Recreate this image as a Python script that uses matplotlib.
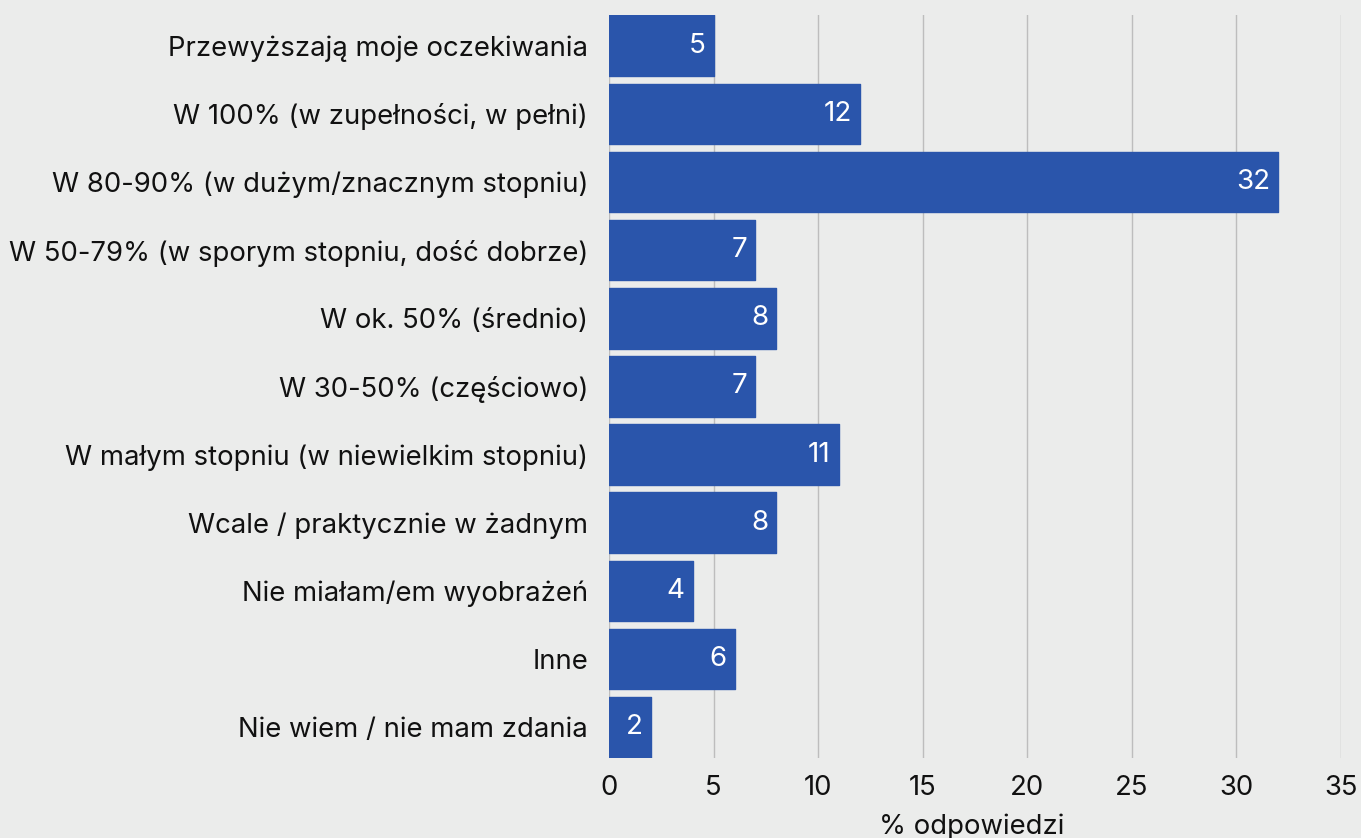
import matplotlib
matplotlib.use("Agg")
import matplotlib.pyplot as plt

# data
categories = [
    "Przewyższają moje oczekiwania",
    "W 100% (w zupełności, w pełni)",
    "W 80-90% (w dużym/znacznym stopniu)",
    "W 50-79% (w sporym stopniu, dość dobrze)",
    "W ok. 50% (średnio)",
    "W 30-50% (częściowo)",
    "W małym stopniu (w niewielkim stopniu)",
    "Wcale / praktycznie w żadnym",
    "Nie miałam/em wyobrażeń",
    "Inne",
    "Nie wiem / nie mam zdania",
]
values = [5, 12, 32, 7, 8, 7, 11, 8, 4, 6, 2]
xticks = [0, 5, 10, 15, 20, 25, 30, 35]

bg = "#ebeceb"
blue = "#2a55ab"

plt.rcParams['font.family'] = ['Inter', 'DejaVu Sans']

fig = plt.figure(figsize=(13.61, 8.38), dpi=100, facecolor=bg)
ax = fig.add_axes([0.4475, 0.0955, 0.5378, 0.8866])
ax.set_facecolor(bg)

ypos = list(range(len(categories)))
bars = ax.barh(ypos, values, height=0.89, color=blue, edgecolor=blue,
               linewidth=1, joinstyle='round', zorder=3)

for y, v in zip(ypos, values):
    ax.annotate(str(v), xy=(v, y), xytext=(-6, 0), textcoords='offset points',
                ha='right', va='center', color='white', fontsize=20, zorder=4)

ax.set_xlim(0, 35)
ax.set_ylim(len(categories) - 0.55, -0.45)
ax.set_xticks(xticks)
ax.set_yticks(ypos)
ax.set_yticklabels(categories, fontsize=19.8)
ax.tick_params(axis='both', length=0, labelsize=19.8, colors='#111111')
ax.tick_params(axis='x', pad=12)
ax.tick_params(axis='y', pad=15)
ax.grid(axis='x', color='#bdbdbd', linewidth=1, zorder=0)
for s in ax.spines.values():
    s.set_visible(False)

ax.set_xlabel('% odpowiedzi', fontsize=19.8, labelpad=9, color='#111111')
ax.xaxis.set_label_coords(0.496, -0.075)

plt.savefig('out.png', dpi=100, facecolor=bg)
